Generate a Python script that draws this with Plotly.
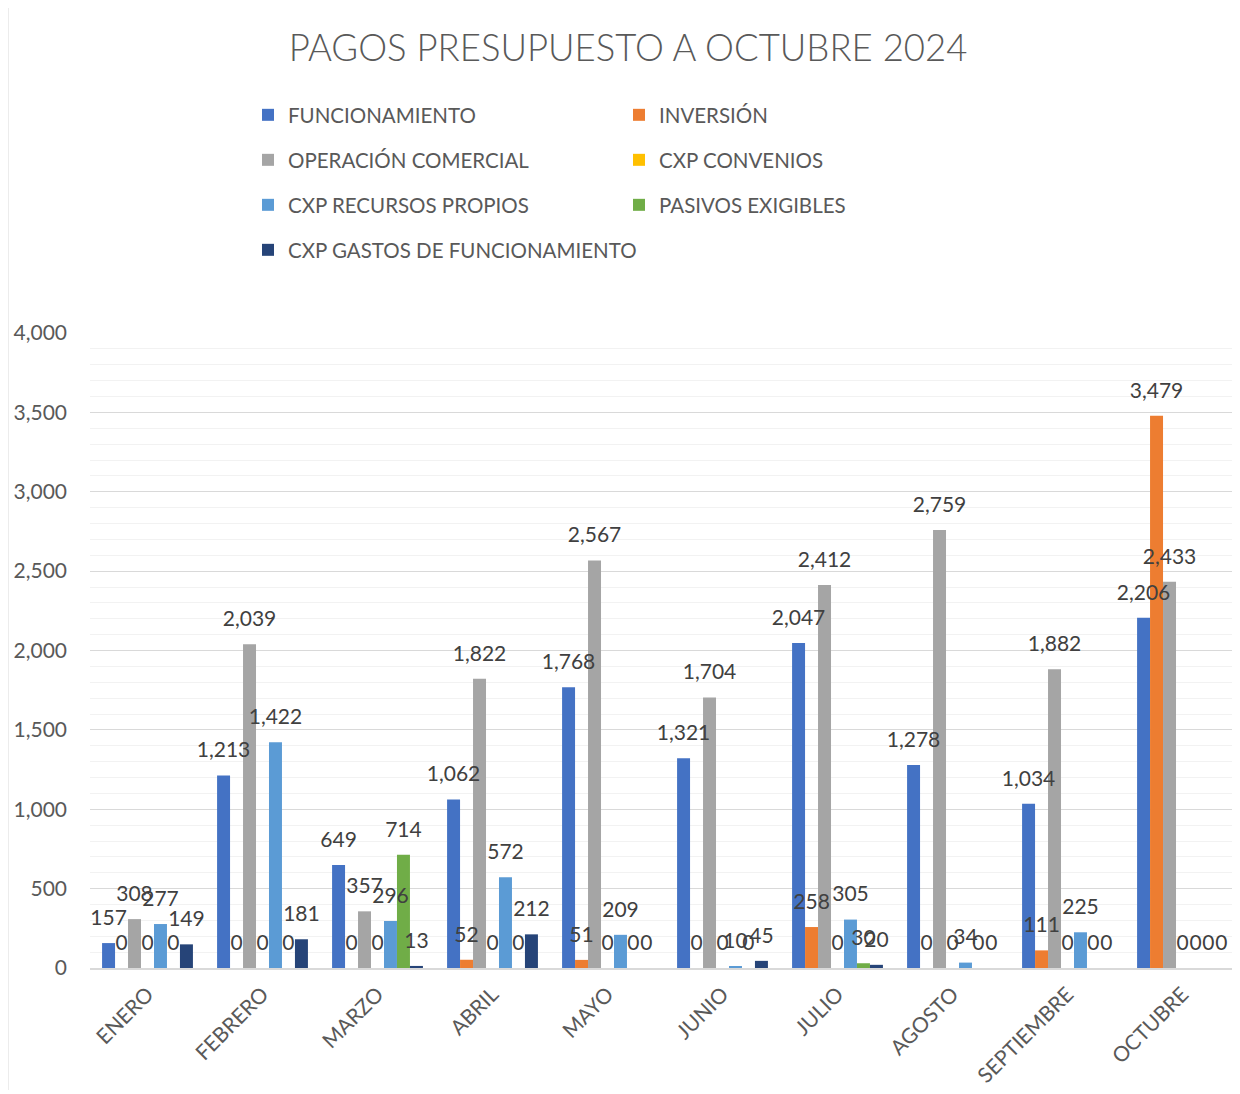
import plotly.graph_objects as go

months = ["ENERO", "FEBRERO", "MARZO", "ABRIL", "MAYO", "JUNIO", "JULIO",
          "AGOSTO", "SEPTIEMBRE", "OCTUBRE"]

funcionamiento = [157, 1213, 649, 1062, 1768, 1321, 2047, 1278, 1034, 2206]
inversion = [0, 0, 0, 52, 51, 0, 258, 0, 111, 3479]
operacion_comercial = [308, 2039, 357, 1822, 2567, 1704, 2412, 2759, 1882, 2433]
cxp_convenios = [0, 0, 0, 0, 0, 0, 0, 0, 0, 0]
cxp_recursos_propios = [277, 1422, 296, 572, 209, 10, 305, 34, 225, 0]
pasivos_exigibles = [0, 0, 714, 0, 0, 0, 30, 0, 0, 0]
cxp_gastos_funcionamiento = [149, 181, 13, 212, 0, 45, 20, 0, 0, 0]

series = [
    ("FUNCIONAMIENTO", funcionamiento, "#4472C4", "legend"),
    ("INVERSIÓN", inversion, "#ED7D31", "legend"),
    ("OPERACIÓN COMERCIAL", operacion_comercial, "#A5A5A5", "legend2"),
    ("CXP CONVENIOS", cxp_convenios, "#FFC000", "legend2"),
    ("CXP RECURSOS PROPIOS", cxp_recursos_propios, "#5B9BD5", "legend3"),
    ("PASIVOS EXIGIBLES", pasivos_exigibles, "#70AD47", "legend3"),
    ("CXP GASTOS DE FUNCIONAMIENTO", cxp_gastos_funcionamiento, "#264478", "legend4"),
]

FONT = "Lato"
GAP = 0.21
fig = go.Figure()
for i, (name, vals, color, leg) in enumerate(series):
    fig.add_trace(go.Bar(
        name=name, x=months, y=vals, marker_color=color, marker_line_width=0,
        legend=leg, offsetgroup=str(i), hoverinfo="skip",
    ))
# data labels drawn on top of all bars
for i, (name, vals, color, leg) in enumerate(series):
    fig.add_trace(go.Scatter(
        x=months, y=vals, mode="markers+text", texttemplate="%{y:,.0f}",
        textposition="top center", cliponaxis=False, showlegend=False,
        marker=dict(size=19, color="rgba(0,0,0,0)"),
        textfont=dict(family=FONT, size=21, color="#404040"),
        offsetgroup=str(i), hoverinfo="skip",
    ))

# page body has an 8px margin, so the figure starts at (8, 8)
W, H = 1232, 1086
ml, mr, mt, mb = 82, 0, 325, 126
ph = H - mt - mb
pw = W - ml - mr

def ly(py):
    return 1 + (mt - py) / ph

def lx(px):
    return (px - ml) / pw

leg_common = dict(orientation="h", xanchor="left", yanchor="middle",
                  font=dict(family=FONT, size=20.5, color="#595959"),
                  entrywidthmode="pixels",
                  bgcolor="rgba(0,0,0,0)", itemclick=False)
x0 = lx(240)

fig.update_layout(
    width=W, height=H,
    margin=dict(l=ml, r=mr, t=mt, b=mb),
    paper_bgcolor="white", plot_bgcolor="white",
    barmode="group", bargap=GAP, bargroupgap=0,
    scattermode="group", scattergap=GAP,
    title=dict(text="PAGOS PRESUPUESTO A OCTUBRE 2024", x=(628 - 8) / W, xanchor="center",
               y=1 - 40 / H, yanchor="middle", yref="container",
               font=dict(family=FONT, size=36.5, color="#595959", weight=300)),
    legend=dict(x=x0, y=ly(107), entrywidth=326, **leg_common),
    legend2=dict(x=x0, y=ly(152), entrywidth=326, **leg_common),
    legend3=dict(x=x0, y=ly(197), entrywidth=326, **leg_common),
    legend4=dict(x=x0, y=ly(242), entrywidth=420, **leg_common),
    xaxis=dict(tickangle=-45, tickfont=dict(family=FONT, size=21, color="#595959"),
               showline=True, linecolor="#D9D9D9", linewidth=1.5, ticks="",
               showgrid=False, ticklabelstandoff=4),
    yaxis=dict(range=[0, 4000], dtick=500, tickformat=",.0f",
               tickfont=dict(family=FONT, size=21, color="#595959"),
               gridcolor="#D9D9D9", gridwidth=1, zeroline=False, showline=False,
               ticks="", ticklabelstandoff=22,
               minor=dict(dtick=100, showgrid=True, gridcolor="#F2F2F2", gridwidth=1)),
    showlegend=True,
)

fig.add_shape(type="line", xref="paper", yref="paper", x0=lx(0), x1=lx(0),
              y0=ly(0), y1=ly(1082), line=dict(color="#D9D9D9", width=1))

fig.write_html("out.html")
